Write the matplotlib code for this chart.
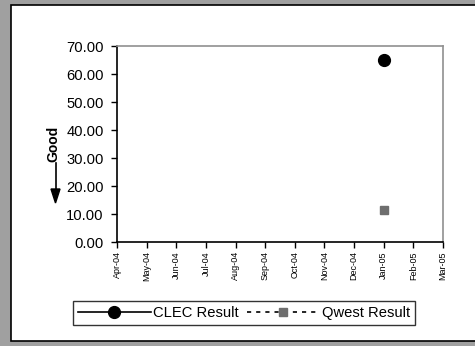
import matplotlib
matplotlib.use("Agg")
import matplotlib.pyplot as plt
from matplotlib.patches import Rectangle, FancyArrow

plt.rcParams['font.family'] = ['Liberation Sans', 'DejaVu Sans']

months = ["Apr-04", "May-04", "Jun-04", "Jul-04", "Aug-04", "Sep-04",
          "Oct-04", "Nov-04", "Dec-04", "Jan-05", "Feb-05", "Mar-05"]
clec_months = ["Jan-05"]
clec_values = [65.0]
qwest_months = ["Jan-05"]
qwest_values = [11.5]
y_ticks = [0, 10, 20, 30, 40, 50, 60, 70]

W, H = 475, 346
fig = plt.figure(figsize=(W / 100, H / 100), dpi=100)
fig.patch.set_facecolor("#A0A0A0")

bg = fig.add_axes([0, 0, 1, 1], zorder=-10)
bg.set_xlim(0, W)
bg.set_ylim(H, 0)
bg.axis("off")
bg.add_patch(Rectangle((11, 5), W, 336, facecolor="white",
                       edgecolor="black", linewidth=1.2))
# "Good" label with arrow
bg.text(53, 144, "Good", rotation=90, fontsize=10, fontweight="bold",
        ha="center", va="center")
bg.plot([55.5, 55.5], [163, 191], color="black", linewidth=1.2)
bg.add_patch(FancyArrow(55.5, 189, 0, 14, width=0.01, head_width=9,
                        head_length=14, length_includes_head=True,
                        color="black"))

ax = fig.add_axes([117 / W, 1 - 242 / H, (443 - 117) / W, (242 - 46) / H])
ax.set_facecolor("white")
xpos = {m: i for i, m in enumerate(months)}

ax.plot([xpos[m] for m in clec_months], clec_values, color="black", linestyle="-",
        marker="o", markersize=8.5, linewidth=1.2, label="CLEC Result")
ax.plot([xpos[m] for m in qwest_months], qwest_values, color="black", linestyle=(0, (2.5, 3)),
        marker="s", markersize=6, linewidth=1.2, label="Qwest Result",
        markerfacecolor="#6E6E6E", markeredgecolor="#6E6E6E")

ax.set_xlim(0, len(months) - 1)
ax.set_ylim(0, 70)
ax.set_xticks(range(len(months)))
ax.set_xticklabels(months, rotation=90, fontsize=6.5)
ax.set_yticks(y_ticks)
ax.set_yticklabels([f"{v:.2f}" for v in y_ticks], fontsize=10.6)
ax.tick_params(axis="both", direction="out", length=4.5, width=1, color="black")
ax.tick_params(axis="y", pad=5)
ax.tick_params(axis="x", pad=2)
for s in ["top", "right"]:
    ax.spines[s].set_color("#909090")
    ax.spines[s].set_linewidth(1.2)
for s in ["left", "bottom"]:
    ax.spines[s].set_color("black")
    ax.spines[s].set_linewidth(1.2)

leg = fig.legend(loc="center", bbox_to_anchor=(244 / W, 1 - 313 / H), ncol=2,
                 fontsize=10.6, frameon=True, fancybox=False, edgecolor="black",
                 handlelength=4.9, columnspacing=0.6, handletextpad=0.15,
                 borderpad=0.35, borderaxespad=0)
leg.get_frame().set_linewidth(1.0)

fig.savefig("out.png", dpi=100, facecolor=fig.get_facecolor())
